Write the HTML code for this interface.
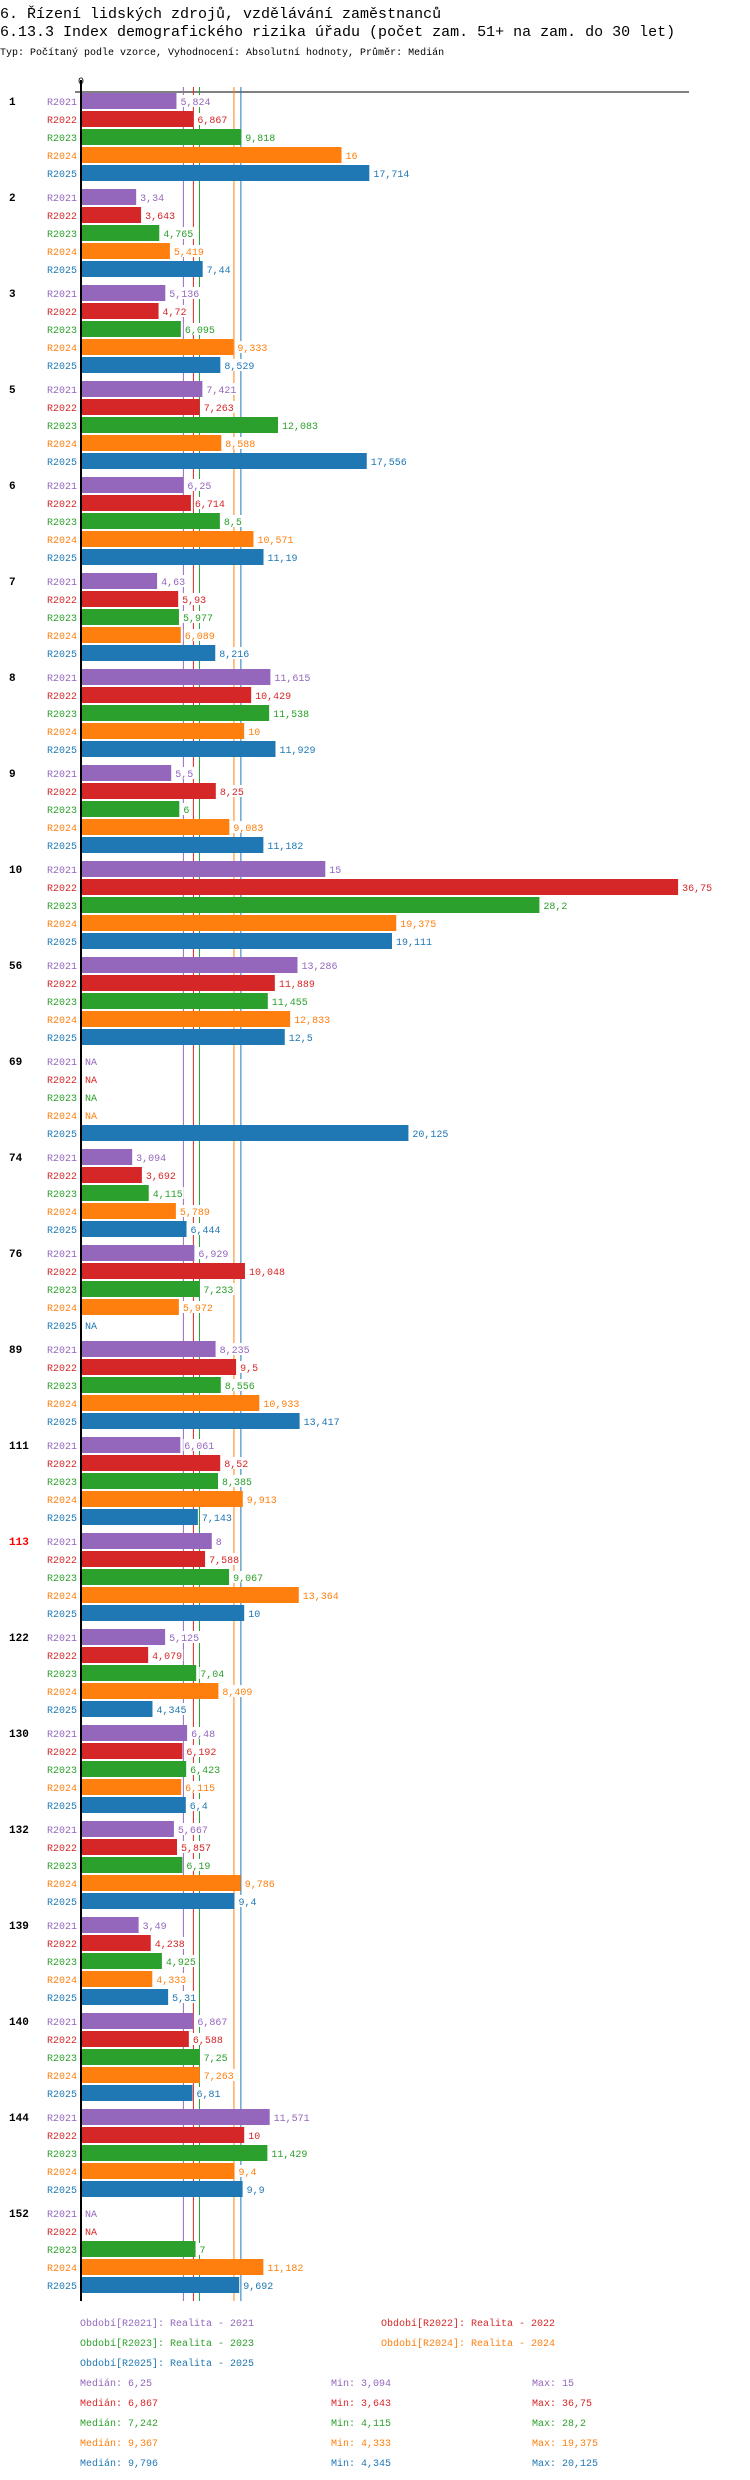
<!DOCTYPE html>
<html><head><meta charset="utf-8">
<style>
html,body{margin:0;padding:0;background:#fff;}
body{width:750px;height:2480px;overflow:hidden;position:relative;font-family:"Liberation Mono",monospace;}
svg{position:absolute;left:0;top:0;}
</style></head>
<body>
<svg id="chart" width="750" height="2480" xmlns="http://www.w3.org/2000/svg">
<text x="0" y="18" font-family="Liberation Mono, monospace" font-size="15" fill="#000">6. Řízení lidských zdrojů, vzdělávání zaměstnanců</text>
<text x="0" y="36" font-family="Liberation Mono, monospace" font-size="15" fill="#000">6.13.3 Index demografického rizika úřadu (počet zam. 51+ na zam. do 30 let)</text>
<text x="0" y="55" font-family="Liberation Mono, monospace" font-size="10" fill="#000">Typ: Počítaný podle vzorce, Vyhodnocení: Absolutní hodnoty, Průměr: Medián</text>
</svg>
<script>
const categories = ["1","2","3","5","6","7","8","9","10","56","69","74","76","89","111","113","122","130","132","139","140","144","152"];
const seriesNames = ["R2021","R2022","R2023","R2024","R2025"];
const s2021 = [5.824,3.34,5.136,7.421,6.25,4.63,11.615,5.5,15,13.286,null,3.094,6.929,8.235,6.061,8,5.125,6.48,5.667,3.49,6.867,11.571,null];
const s2022 = [6.867,3.643,4.72,7.263,6.714,5.93,10.429,8.25,36.75,11.889,null,3.692,10.048,9.5,8.52,7.588,4.079,6.192,5.857,4.238,6.588,10,null];
const s2023 = [9.818,4.765,6.095,12.083,8.5,5.977,11.538,6,28.2,11.455,null,4.115,7.233,8.556,8.385,9.067,7.04,6.423,6.19,4.925,7.25,11.429,7];
const s2024 = [16,5.419,9.333,8.588,10.571,6.089,10,9.083,19.375,12.833,null,5.789,5.972,10.933,9.913,13.364,8.409,6.115,9.786,4.333,7.263,9.4,11.182];
const s2025 = [17.714,7.44,8.529,17.556,11.19,8.216,11.929,11.182,19.111,12.5,20.125,6.444,null,13.417,7.143,10,4.345,6.4,9.4,5.31,6.81,9.9,9.692];
const medians = [6.25,6.867,7.242,9.367,9.796];
const mins = [3.094,3.643,4.115,4.333,4.345];
const maxs = [15,36.75,28.2,19.375,20.125];
const legendTexts = ["Realita - 2021","Realita - 2022","Realita - 2023","Realita - 2024","Realita - 2025"];

const colors = ["#9467bd","#d62728","#2ca02c","#ff7f0e","#1f77b4"];
const series = [s2021,s2022,s2023,s2024,s2025];
const NS = "http://www.w3.org/2000/svg";
const svg = document.getElementById("chart");
const X0 = 82, K = 16.22, TOP = 93, ROW = 18, GROUP = 96, BARH = 16;
const xs = v => X0 + v * K;
const ys = (g, s) => TOP + g * GROUP + s * ROW;
const fmt = v => String(v).replace(".", ",");
const bottom = ys(categories.length - 1, 4) + 24;

function mk(tag, attrs, parent) {
  const e = document.createElementNS(NS, tag);
  for (const k in attrs) e.setAttribute(k, attrs[k]);
  (parent || svg).appendChild(e);
  return e;
}
function txt(x, y, s, color, size, extra) {
  const t = mk("text", Object.assign({x: x, y: y, fill: color, "font-size": size, "font-family": "Liberation Mono, monospace"}, extra || {}));
  t.textContent = s;
  return t;
}

// zero label and axes
const zl = txt(X0 - 1, 84, "0", "#000", 10, {"text-anchor": "middle"});


const hx = mk("line", {x1: 75, x2: 689, y1: 92, y2: 92, stroke: "#000", "stroke-width": 1});



// median lines
medians.forEach((m, i) => {
  const l = mk("line", {x1: xs(m), x2: xs(m), y1: 87, y2: bottom, stroke: colors[i], "stroke-width": 1});
  
  
});

categories.forEach((c, g) => {
  const gl = txt(9, ys(g, 0) + 12, c, c === "113" ? "#ff0000" : "#000", 11, {"font-weight": "bold"});
  
  
  series.forEach((arr, s) => {
    const y = ys(g, s);
    const sl = txt(77, y + 12, seriesNames[s], colors[s], 10, {"text-anchor": "end"});
    
    
    const v = arr[g];
    let lx = X0 + 3;
    if (v !== null) {
      const b = mk("rect", {x: X0, y: y, width: xs(v) - X0, height: BARH, fill: colors[s]});
      
      
      lx = xs(v) + 4;
    }
    const label = v === null ? "NA" : fmt(v);
    const bg = mk("rect", {x: lx - 1, y: y + 2, width: label.length * 6 + 2, height: 12, fill: "#fff"});
    
    
    const vl = txt(lx, y + 12, label, colors[s], 10);
    
    
  });
});

const vx = mk("line", {x1: 81, x2: 81, y1: 80, y2: bottom, stroke: "#000", "stroke-width": 2});



// legend
const legPos = [[80, 2326], [381, 2326], [80, 2346], [381, 2346], [80, 2366]];
seriesNames.forEach((n, i) => {
  const t = txt(legPos[i][0], legPos[i][1], "Období[" + n + "]: " + legendTexts[i], colors[i], 10);
  
  
});
seriesNames.forEach((n, i) => {
  const y = 2386 + i * 20;
  const a = txt(80, y, "Medián: " + fmt(medians[i]), colors[i], 10);
  
  
  const b = txt(331, y, "Min: " + fmt(mins[i]), colors[i], 10);
  
  
  const c = txt(532, y, "Max: " + fmt(maxs[i]), colors[i], 10);
  
  
});
</script>
</body></html>
